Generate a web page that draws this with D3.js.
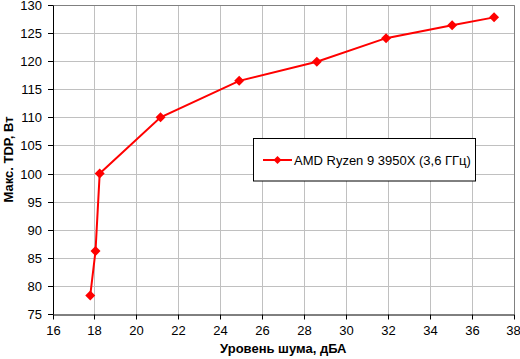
<!DOCTYPE html>
<html><head><meta charset="utf-8">
<script src="https://cdn.jsdelivr.net/npm/d3@7"></script>
<style>body{margin:0;background:#fff}svg{display:block}text{font-family:"Liberation Sans",Arial,sans-serif}</style>
</head><body><svg id="c" width="520" height="359"></svg>
<script>
const seriesName = "AMD Ryzen 9 3950X (3,6 ГГц)";
const noise = [17.8, 18.05, 18.25, 21.15, 24.9, 28.6, 31.9, 35.05, 37.05];
const tdp = [78.3, 86.2, 100, 110, 116.5, 119.9, 124.1, 126.4, 127.8];
const xTicks = [16,18,20,22,24,26,28,30,32,34,36,38];
const yTicks = [75,80,85,90,95,100,105,110,115,120,125,130];
const xTitle = "Уровень шума, дБА";
const yTitle = "Макс. TDP, Вт";

const svg = d3.select("#c");
const L = 52.5, R = 514, T = 5, B = 314;
const x = d3.scaleLinear().domain([16,38]).range([L,R]);
const y = d3.scaleLinear().domain([75,130]).range([B,T]);

// grid
svg.append("g").selectAll("line").data(xTicks.slice(1)).join("line")
  .attr("x1",d=>Math.round(x(d))+0.5).attr("x2",d=>Math.round(x(d))+0.5)
  .attr("y1",T).attr("y2",B).attr("stroke","#c0c0c0");
svg.append("g").selectAll("line").data(yTicks.slice(1)).join("line")
  .attr("y1",d=>Math.round(y(d))+0.5).attr("y2",d=>Math.round(y(d))+0.5)
  .attr("x1",L).attr("x2",R).attr("stroke","#c0c0c0");
// top/right border
svg.append("path").attr("d",`M${L},${T+0.5}H${R+0.5}V${B}`).attr("fill","none").attr("stroke","#808080");

const fs = "13px";
const xa = svg.append("g").attr("transform",`translate(0,${B+0.5})`)
  .call(d3.axisBottom(x).tickValues(xTicks).tickSize(5).tickSizeOuter(0).tickPadding(6));
const ya = svg.append("g").attr("transform",`translate(${L+0.5},0)`)
  .call(d3.axisLeft(y).tickValues(yTicks).tickSize(5).tickSizeOuter(0).tickPadding(6));
[xa,ya].forEach(a=>{
  a.selectAll("text").attr("font-size",fs).attr("fill","#000").attr("font-family","'Liberation Sans',Arial,sans-serif");
  a.selectAll("line,path").attr("stroke","#000");
});
xa.selectAll(".tick").attr("transform",d=>`translate(${Math.round(x(d))+0.5},0)`);
ya.selectAll(".tick").attr("transform",d=>`translate(0,${Math.round(y(d))+0.5})`);
xa.selectAll(".tick text").filter(d=>d===38).attr("dx","-1");

// titles
svg.append("text").attr("x",(L+R)/2).attr("y",353).attr("text-anchor","middle")
  .attr("font-size","13px").attr("font-weight","bold").text(xTitle);
svg.append("text").attr("transform",`translate(13,${(T+B)/2}) rotate(-90)`).attr("text-anchor","middle")
  .attr("font-size","13px").attr("font-weight","bold").text(yTitle);

// series
const pts = noise.map((v,i)=>[x(v),y(tdp[i])]);
svg.append("path").attr("d",d3.line()(pts)).attr("fill","none").attr("stroke","#ff0000").attr("stroke-width",2);
const diamond = r => `M0,${-r}L${r},0L0,${r}L${-r},0Z`;
svg.append("g").selectAll("path").data(pts).join("path")
  .attr("transform",d=>`translate(${d[0]},${d[1]})`)
  .attr("d",diamond(5)).attr("fill","#ff0000");

// legend
const lg = svg.append("g");
lg.append("rect").attr("x",253.5).attr("y",138.5).attr("width",222).attr("height",42.5)
  .attr("fill","#fff").attr("stroke","#000");
lg.append("line").attr("x1",263).attr("x2",292).attr("y1",160).attr("y2",160).attr("stroke","#ff0000").attr("stroke-width",2);
lg.append("path").attr("transform","translate(277.5,160)").attr("d",diamond(4)).attr("fill","#ff0000");
lg.append("text").attr("x",294).attr("y",164.5).attr("font-size","13px").text(seriesName);
</script></body></html>
